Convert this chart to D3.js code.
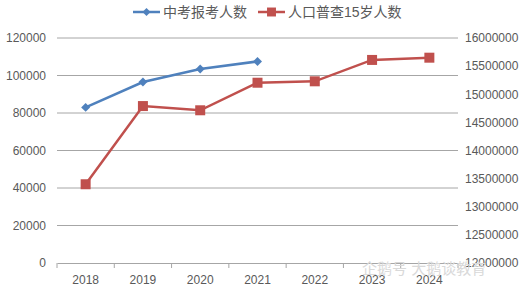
<!DOCTYPE html>
<html>
<head>
<meta charset="utf-8">
<script src="https://cdn.jsdelivr.net/npm/d3@7"></script>
<style>
  body { margin: 0; background: #fff; }
  svg text { font-family: "Liberation Sans", "Noto Sans CJK SC", sans-serif; fill: #595959; }
  svg text.wm { fill: #d9d9d9; }
</style>
</head>
<body>
<svg id="chart" width="530" height="289"></svg>
<script>
// data
const years = ["2018", "2019", "2020", "2021", "2022", "2023", "2024"];
const examTakers = [83000, 96500, 103500, 107500, null, null, null];
const census15 = [13400000, 14790000, 14715000, 15205000, 15230000, 15610000, 15650000];
const leftTicks = [0, 20000, 40000, 60000, 80000, 100000, 120000];
const rightTicks = [12000000, 12500000, 13000000, 13500000, 14000000, 14500000, 15000000, 15500000, 16000000];
const seriesNames = ["中考报考人数", "人口普查15岁人数"];

const blue = "#4f81bd";
const red = "#c0504d";

const svg = d3.select("#chart");
const plotL = 57, plotR = 458, plotT = 38, plotB = 263;

const x = d3.scaleBand().domain(years).range([plotL, plotR]);
const yL = d3.scaleLinear().domain([0, 120000]).range([plotB, plotT]);
const yR = d3.scaleLinear().domain([12000000, 16000000]).range([plotB, plotT]);

// gridlines
svg.append("g").selectAll("line")
  .data(leftTicks.filter(d => d > 0))
  .enter().append("line")
  .attr("x1", plotL).attr("x2", plotR)
  .attr("y1", d => yL(d)).attr("y2", d => yL(d))
  .attr("stroke", "#a6a6a6").attr("stroke-width", 1);

// x axis
const xAxis = svg.append("g")
  .attr("transform", "translate(0," + plotB + ")")
  .call(d3.axisBottom(x).tickSize(0).tickPadding(12));
xAxis.select(".domain").attr("stroke", "#a6a6a6");
xAxis.selectAll("text").style("font-size", "12px");
// tick marks at band edges
svg.append("g").selectAll("line")
  .data(years.concat(["end"]))
  .enter().append("line")
  .attr("x1", (d, i) => plotL + i * x.step()).attr("x2", (d, i) => plotL + i * x.step())
  .attr("y1", plotB).attr("y2", plotB + 5)
  .attr("stroke", "#a6a6a6");

// left axis
const yLAxis = svg.append("g")
  .attr("transform", "translate(" + plotL + ",0)")
  .call(d3.axisLeft(yL).tickValues(leftTicks).tickSize(0).tickPadding(11).tickFormat(d3.format("d")));
yLAxis.select(".domain").remove();
yLAxis.selectAll("text").style("font-size", "12px");

// right axis
const yRAxis = svg.append("g")
  .attr("transform", "translate(" + plotR + ",0)")
  .call(d3.axisRight(yR).tickValues(rightTicks).tickSize(0).tickPadding(7).tickFormat(d3.format("d")));
yRAxis.select(".domain").remove();
yRAxis.selectAll("text").style("font-size", "12px");

const cx = d => x(d) + x.bandwidth() / 2;

// census line
const redPts = years.map((d, i) => [cx(d), yR(census15[i])]);
svg.append("path")
  .attr("d", d3.line()(redPts))
  .attr("fill", "none").attr("stroke", red).attr("stroke-width", 2.5);
svg.append("g").selectAll("path")
  .data(redPts)
  .enter().append("path")
  .attr("d", d3.symbol(d3.symbolSquare, 100))
  .attr("transform", d => "translate(" + d[0] + "," + d[1] + ")")
  .attr("fill", red);

// exam line
const bluePts = years.map((d, i) => examTakers[i] == null ? null : [cx(d), yL(examTakers[i])]).filter(d => d);
svg.append("path")
  .attr("d", d3.line()(bluePts))
  .attr("fill", "none").attr("stroke", blue).attr("stroke-width", 2.5);
svg.append("g").selectAll("path")
  .data(bluePts)
  .enter().append("path")
  .attr("d", d3.symbol(d3.symbolSquare, 40))
  .attr("transform", d => "translate(" + d[0] + "," + d[1] + ") rotate(45)")
  .attr("fill", blue);

// legend
const leg = [
  { name: seriesNames[0], color: blue, size: 32, rot: 45, x: 133 },
  { name: seriesNames[1], color: red, size: 80, rot: 0, x: 258 }
];
const lg = svg.append("g").selectAll("g").data(leg).enter().append("g")
  .attr("transform", d => "translate(" + d.x + ",12)");
lg.append("line").attr("x1", 0).attr("x2", 27).attr("stroke", d => d.color).attr("stroke-width", 2.5);
lg.append("path").attr("d", d => d3.symbol(d3.symbolSquare, d.size)())
  .attr("transform", d => "translate(13.5,0) rotate(" + d.rot + ")").attr("fill", d => d.color);
lg.append("text").attr("x", 30).attr("y", 5).style("font-size", "14px").text(d => d.name);

// watermark
svg.append("text")
  .attr("class", "wm")
  .attr("x", 362).attr("y", 274)
  .style("font-size", "15px")
  .text("企鹅号 大鹅谈教育");
</script>
</body>
</html>
